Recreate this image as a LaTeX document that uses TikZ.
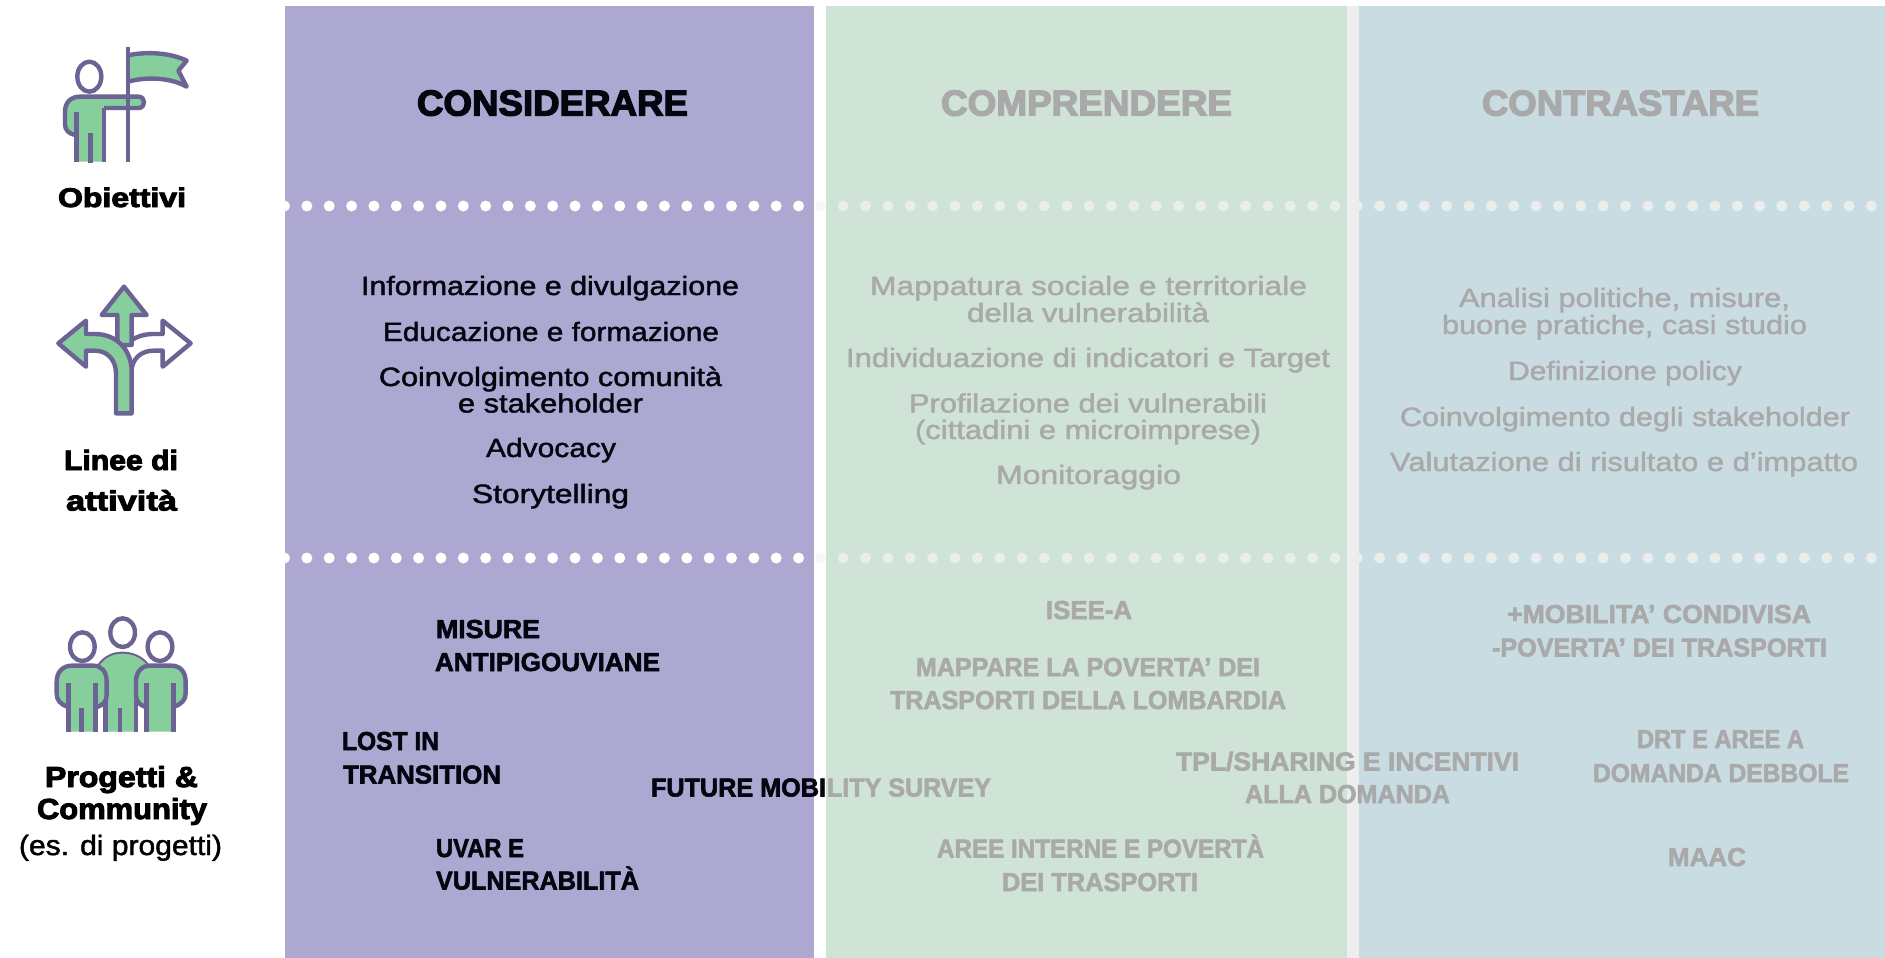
\documentclass[tikz,border=0pt]{standalone}
\usepackage{fontspec}
\usepackage{graphicx}
\setmainfont{Liberation Sans}
\newfontfamily\regf[FakeBold=1.5]{Liberation Sans}
\newfontfamily\boldf[UprightFont=* Bold,FakeBold=2.2]{Liberation Sans}
\newfontfamily\heavyf[UprightFont=* Bold,FakeBold=3.6]{Liberation Sans}
\newfontfamily\sidef[UprightFont=* Bold,FakeBold=3.2]{Liberation Sans}
\definecolor{pviola}{HTML}{ADA8D1}
\definecolor{pverde}{HTML}{CFE3D6}
\definecolor{pblu}{HTML}{C9DCE2}
\definecolor{gapc}{HTML}{EEEEEE}
\definecolor{dotc}{HTML}{E9EEEB}
\definecolor{fadec}{HTML}{A9A9AA}
\definecolor{inkc}{HTML}{05050F}
\definecolor{iconl}{HTML}{6B6393}
\definecolor{iconf}{HTML}{86CF9C}
\tikzset{
  txt/.style={anchor=base west,inner sep=0pt,outer sep=0pt},
  iconline/.style={draw=iconl,line width=4.4pt,line join=round},
  iconbar/.style={draw=iconl,line width=4.4pt},
}
% name, left, right, baseline, colour, font, text
\newcommand\tl[7]{\node[txt,text=#5] (#1) at (#2,#4) {\resizebox{\dimexpr #3pt-#2pt\relax}{\height}{#6#7}};}
\newcommand\hd[6]{\tl{#1}{#2}{#3}{#4}{#5}{\fontsize{36}{36}\heavyf}{#6}}
\newcommand\pr[6]{\tl{#1}{#2}{#3}{#4}{#5}{\fontsize{26}{26}\boldf}{#6}}
\newcommand\ac[6]{\tl{#1}{#2}{#3}{#4}{#5}{\fontsize{26.5}{27}\regf}{#6}}
\begin{document}
\begin{tikzpicture}[x=1pt,y=-1pt]
\useasboundingbox (0,0) rectangle (1885,958);
\fill[white] (0,0) rectangle (1885,958);
% panels
\fill[pviola] (285,6) rectangle (813.5,958);
\fill[pverde] (826,6) rectangle (1347,958);
\fill[gapc] (1347,6) rectangle (1359,958);
\fill[pblu] (1359,6) rectangle (1885,958);
% dotted rows
\begin{scope}
\clip (285,0) rectangle (1885,958);
\foreach \r in {206,558}{
  \foreach \k in {0,...,71}{
    \pgfmathsetmacro\xx{284.5+22.35*\k}
    \ifnum\k<24 \fill[white] (\xx,\r) circle[radius=5.5];
    \else\ifnum\k=24 \fill[gapc!50] (\xx,\r) circle[radius=5.5];
    \else \fill[dotc] (\xx,\r) circle[radius=5.5]; \fi\fi
  }
}
\end{scope}
% headings
\hd{h1}{417}{688}{115.5}{inkc}{CONSIDERARE}
\hd{h2}{941}{1232}{115.5}{fadec}{COMPRENDERE}
\hd{h3}{1482}{1759}{115.5}{fadec}{CONTRASTARE}
% side labels
\tl{s1}{58}{186}{207}{black}{\fontsize{27}{28}\sidef}{Obiettivi}
\tl{s2}{64}{178}{470}{black}{\fontsize{28}{28}\sidef}{Linee di}
\tl{s3}{66}{177}{510.5}{black}{\fontsize{28}{28}\sidef}{attività}
\tl{s4}{45}{198}{787}{black}{\fontsize{29}{30}\sidef}{Progetti \&}
\tl{s5}{37}{207}{819}{black}{\fontsize{29}{30}\sidef}{Community}
\tl{s6}{19}{222}{855}{black}{\fontsize{28}{28}\regf}{(es. di progetti)}
% activities: first column
\ac{a1}{361}{739}{295}{inkc}{Informazione e divulgazione}
\ac{a2}{383}{719}{341}{inkc}{Educazione e formazione}
\ac{a3}{379}{722}{386}{inkc}{Coinvolgimento comunità}
\ac{a4}{458}{643}{412.5}{inkc}{e stakeholder}
\ac{a5}{486}{616}{457}{inkc}{Advocacy}
\ac{a6}{472}{629}{503}{inkc}{Storytelling}
% activities: second column
\ac{b1}{870}{1307}{295}{fadec}{Mappatura sociale e territoriale}
\ac{b2}{967}{1209}{322}{fadec}{della vulnerabilità}
\ac{b3}{846}{1330}{367}{fadec}{Individuazione di indicatori e Target}
\ac{b4}{909}{1267}{412.5}{fadec}{Profilazione dei vulnerabili}
\ac{b5}{915}{1261}{439}{fadec}{(cittadini e microimprese)}
\ac{b6}{996}{1181}{484}{fadec}{Monitoraggio}
% activities: third column
\ac{c1}{1459}{1790}{307}{fadec}{Analisi politiche, misure,}
\ac{c2}{1442}{1807}{334}{fadec}{buone pratiche, casi studio}
\ac{c3}{1508}{1742}{380}{fadec}{Definizione policy}
\ac{c4}{1400}{1850}{426}{fadec}{Coinvolgimento degli stakeholder}
\ac{c5}{1390}{1858}{471}{fadec}{Valutazione di risultato e d’impatto}
% projects
\pr{p1}{436}{540}{638}{inkc}{MISURE}
\pr{p2}{435}{660}{671}{inkc}{ANTIPIGOUVIANE}
\pr{p3}{342}{439}{750}{inkc}{LOST IN}
\pr{p4}{343}{501}{783.5}{inkc}{TRANSITION}
\pr{p5}{436}{524}{857}{inkc}{UVAR E}
\pr{p6}{436}{639}{889.5}{inkc}{VULNERABILITÀ}
\pr{p7}{651}{826}{796.5}{inkc}{FUTURE MOBI}
\pr{p8}{827}{991}{796.5}{fadec}{LITY SURVEY}
\pr{q1}{1046}{1132}{619}{fadec}{ISEE-A}
\pr{q2}{916}{1260}{676}{fadec}{MAPPARE LA POVERTA’ DEI}
\pr{q3}{890}{1286}{709}{fadec}{TRASPORTI DELLA LOMBARDIA}
\pr{q4}{1176}{1519}{770.5}{fadec}{TPL/SHARING E INCENTIVI}
\pr{q5}{1245}{1450}{803}{fadec}{ALLA DOMANDA}
\pr{q6}{937}{1264}{857.5}{fadec}{AREE INTERNE E POVERTÀ}
\pr{q7}{1002}{1198}{891}{fadec}{DEI TRASPORTI}
\pr{r1}{1507}{1811}{623}{fadec}{+MOBILITA’ CONDIVISA}
\pr{r2}{1492}{1827}{656.5}{fadec}{-POVERTA’ DEI TRASPORTI}
\pr{r3}{1637}{1804}{748}{fadec}{DRT E AREE A}
\pr{r4}{1593}{1849}{782}{fadec}{DOMANDA DEBBOLE}
\pr{r5}{1668}{1746}{866}{fadec}{MAAC}
% icon: flag
\begin{scope}[shift={(30pt,-30pt)},x=0.33333pt,y=-0.33333pt]
\fill[iconf] (150,200) -- (325,200) .. controls (348,200) and (348,234) .. (325,234) -- (222,234) -- (222,395) -- (140,395) -- (140,315) -- (135,315) .. controls (115,310) and (105,300) .. (105,282) -- (105,245) .. controls (105,215) and (125,200) .. (150,200) -- cycle;
\draw[iconline,fill=iconf] (294,76) .. controls (350,64) and (420,68) .. (470,92) -- (445,122) -- (470,170) .. controls (420,142) and (350,140) .. (294,155);
\draw[iconbar] (294,52) -- (294,395);
\draw[iconline] (178,140) ellipse[x radius=36,y radius=45];
\draw[iconline] (135,315) .. controls (115,310) and (105,300) .. (105,282) -- (105,245) .. controls (105,215) and (125,200) .. (150,200) -- (325,200) .. controls (348,200) and (348,234) .. (325,234) -- (222,234);
\draw[iconbar] (222,234) -- (222,395);
\draw[iconbar] (140,245) -- (140,395);
\draw[iconbar] (182,310) -- (182,400);
\end{scope}
% icon: arrows
\begin{scope}[shift={(30pt,-270pt)},x=0.33333pt,y=-0.33333pt]
\draw[iconline,fill=white] (398,152) -- (482,220) -- (398,290) -- (398,242) -- (370,242) .. controls (335,242) and (307,265) .. (305,300) -- (280,235) .. controls (300,205) and (335,192) .. (370,192) -- (398,192) -- cycle;
\draw[iconline,fill=iconf] (282,50) -- (350,135) -- (305,135) -- (305,225) -- (262,225) -- (262,135) -- (215,135) -- cycle;
\draw[iconline,fill=iconf] (85,220) -- (168,152) -- (168,192) -- (195,192) .. controls (260,192) and (305,240) .. (305,305) -- (305,430) -- (258,430) -- (258,310) .. controls (258,270) and (232,242) .. (195,242) -- (168,242) -- (168,290) -- cycle;
\end{scope}
% icon: people
\begin{scope}[shift={(30pt,-600pt)},x=0.33333pt,y=-0.33333pt]
\draw[iconline] (278,98) ellipse[x radius=37,y radius=43];
\draw[iconline] (157,140) ellipse[x radius=37,y radius=43];
\draw[iconline] (390,140) ellipse[x radius=37,y radius=43];
% centre person
\fill[iconf] (225,395) -- (225,250) -- (205,195) .. controls (225,168) and (250,158) .. (278,158) .. controls (305,158) and (335,168) .. (355,195) -- (322,250) -- (322,395) -- cycle;
\draw[draw=iconl,line width=2pt] (205,195) .. controls (225,168) and (250,158) .. (278,158) .. controls (305,158) and (335,168) .. (355,195);
\draw[iconbar] (226,300) -- (226,395);
\draw[iconbar] (270,325) -- (270,395);
\draw[iconbar] (318,300) -- (318,395);
% left person
\fill[iconf] (112,395) -- (112,320) .. controls (90,312) and (80,300) .. (80,280) -- (80,245) .. controls (80,215) and (100,197) .. (125,197) -- (190,197) .. controls (215,197) and (230,215) .. (230,245) -- (230,285) .. controls (230,305) and (220,315) .. (198,322) -- (198,395) -- cycle;
\draw[iconline] (112,320) .. controls (90,312) and (80,300) .. (80,280) -- (80,245) .. controls (80,215) and (100,197) .. (125,197) -- (190,197) .. controls (215,197) and (230,215) .. (230,245) -- (230,285) .. controls (230,305) and (220,315) .. (198,322);
\draw[iconbar] (115,250) -- (115,395);
\draw[iconbar] (155,325) -- (155,395);
\draw[iconbar] (197,250) -- (197,395);
% right person
\fill[iconf] (350,395) -- (350,322) .. controls (328,315) and (318,305) .. (318,285) -- (318,245) .. controls (318,215) and (335,197) .. (360,197) -- (425,197) .. controls (450,197) and (467,215) .. (467,245) -- (467,280) .. controls (467,300) and (455,312) .. (432,320) -- (432,395) -- cycle;
\draw[iconline] (350,322) .. controls (328,315) and (318,305) .. (318,285) -- (318,245) .. controls (318,215) and (335,197) .. (360,197) -- (425,197) .. controls (450,197) and (467,215) .. (467,245) -- (467,280) .. controls (467,300) and (455,312) .. (432,320);
\draw[iconbar] (350,250) -- (350,395);
\draw[iconbar] (430,250) -- (430,395);
\end{scope}
\end{tikzpicture}
\end{document}
